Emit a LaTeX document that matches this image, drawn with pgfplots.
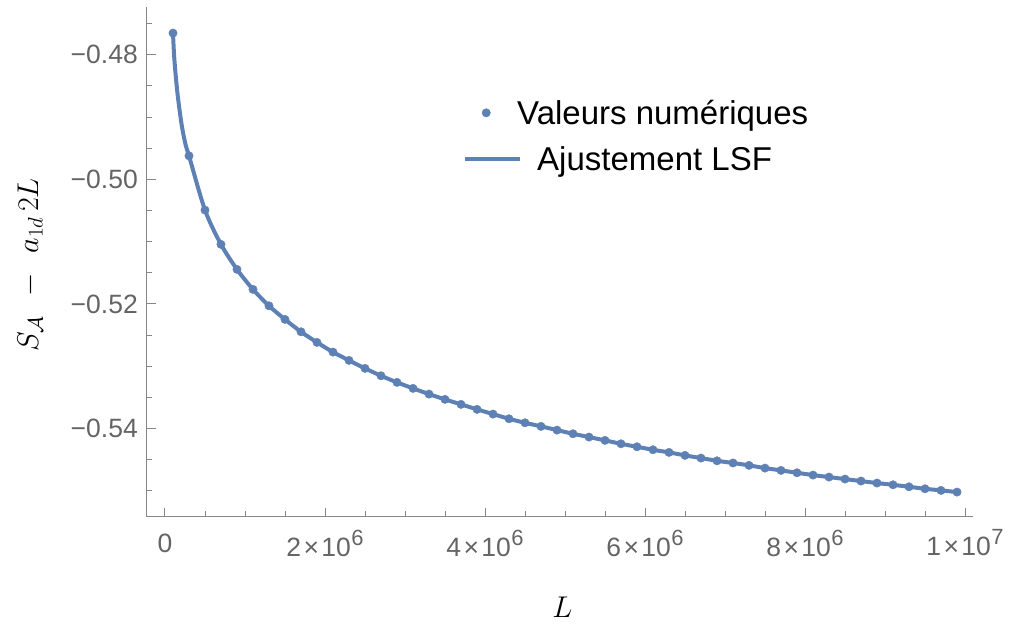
\documentclass[border=0pt]{standalone}
\usepackage{fix-cm}
\usepackage{fontspec}
\setmainfont{Liberation Sans}
\usepackage{pgfplots}
\usepackage{pgfplotstable}
\pgfplotsset{compat=1.18}
\definecolor{mblue}{RGB}{94,129,181}
\definecolor{axgray}{RGB}{135,135,135}
\definecolor{labgray}{RGB}{100,100,100}
\newcommand{\xt}[2]{#1\kern2.5pt×\kern2.5pt10\kern0.5pt\raisebox{11pt}{\fontsize{22}{22}\selectfont #2}}

\pgfplotstableread{
L v
100000 -0.47653
300000 -0.49623
500000 -0.50494
700000 -0.51045
900000 -0.51446
1100000 -0.51767
1300000 -0.52031
1500000 -0.52249
1700000 -0.52448
1900000 -0.52618
2100000 -0.52774
2300000 -0.52907
2500000 -0.53035
2700000 -0.53154
2900000 -0.53260
3100000 -0.53356
3300000 -0.53448
3500000 -0.53533
3700000 -0.53613
3900000 -0.53693
4100000 -0.53769
4300000 -0.53844
4500000 -0.53909
4700000 -0.53966
4900000 -0.54026
5100000 -0.54085
5300000 -0.54138
5500000 -0.54191
5700000 -0.54246
5900000 -0.54294
6100000 -0.54342
6300000 -0.54384
6500000 -0.54432
6700000 -0.54475
6900000 -0.54519
7100000 -0.54554
7300000 -0.54592
7500000 -0.54636
7700000 -0.54673
7900000 -0.54711
8100000 -0.54748
8300000 -0.54780
8500000 -0.54812
8700000 -0.54844
8900000 -0.54876
9100000 -0.54904
9300000 -0.54936
9500000 -0.54968
9700000 -0.54994
9900000 -0.55021
}\datatab

\pgfplotstableread{
L v
100000 -0.47653
116250 -0.48059
153750 -0.48596
208750 -0.49130
258750 -0.49451
300000 -0.49623
500000 -0.50494
700000 -0.51045
900000 -0.51446
1100000 -0.51767
1300000 -0.52031
1500000 -0.52249
1700000 -0.52448
1900000 -0.52618
2100000 -0.52774
2300000 -0.52907
2500000 -0.53035
2700000 -0.53154
2900000 -0.53260
3100000 -0.53356
3300000 -0.53448
3500000 -0.53533
3700000 -0.53613
3900000 -0.53693
4100000 -0.53769
4300000 -0.53844
4500000 -0.53909
4700000 -0.53966
4900000 -0.54026
5100000 -0.54085
5300000 -0.54138
5500000 -0.54191
5700000 -0.54246
5900000 -0.54294
6100000 -0.54342
6300000 -0.54384
6500000 -0.54432
6700000 -0.54475
6900000 -0.54519
7100000 -0.54554
7300000 -0.54592
7500000 -0.54636
7700000 -0.54673
7900000 -0.54711
8100000 -0.54748
8300000 -0.54780
8500000 -0.54812
8700000 -0.54844
8900000 -0.54876
9100000 -0.54904
9300000 -0.54936
9500000 -0.54968
9700000 -0.54994
9900000 -0.55021
}\fittab

\begin{document}
\begin{tikzpicture}
\path[use as bounding box] (0,0) rectangle (1010pt,624pt);
\begin{axis}[
  at={(147pt,107pt)}, anchor=south west,
  scale only axis, width=826pt, height=510pt,
  xmin=-225000, xmax=10100000,
  ymin=-0.55421, ymax=-0.47234,
  axis x line=bottom, axis y line=left,
  axis line style={-, draw=axgray, line width=1pt},
  tick align=inside,
  major tick length=9pt, minor tick length=5.5pt,
  every tick/.style={axgray, line width=1pt},
  scaled x ticks=false, scaled y ticks=false,
  xtick={0,2000000,4000000,6000000,8000000,10000000},
  xticklabels={0,\xt{2}{6},\xt{4}{6},\xt{6}{6},\xt{8}{6},\xt{1}{7}},
  minor xtick={500000,1000000,1500000,2500000,3000000,3500000,4500000,5000000,5500000,6500000,7000000,7500000,8500000,9000000,9500000},
  ytick={-0.54,-0.52,-0.50,-0.48},
  yticklabels={−0.54,−0.52,−0.50,−0.48},
  minor ytick={-0.55,-0.545,-0.535,-0.53,-0.525,-0.515,-0.51,-0.505,-0.495,-0.49,-0.485,-0.475},
  ticklabel style={font=\fontsize{26.5}{31}\selectfont, text=labgray},
  xticklabel style={anchor=center, yshift=-26pt},
  yticklabel style={anchor=east, inner sep=0pt, xshift=-9pt},
  xlabel={$L$}, ylabel={$S_{\mathcal{A}}\;\,-\;\,a_{1d}\,2L$},
  every axis x label/.style={at={(axis description cs:0.503,-0.176)}, anchor=center, font=\fontsize{30}{36}\selectfont},
  every axis y label/.style={at={(axis description cs:-0.1414,0.494)}, rotate=90, anchor=center, font=\fontsize{30}{36}\selectfont},
  legend cell align=left,
  legend style={at={(axis description cs:0.3826,0.747)}, anchor=west,
    draw=none, fill=none, inner sep=0pt, row sep=21pt, column sep=0pt,
    nodes={inner sep=0pt}, font=\fontsize{33}{40}\selectfont},
  clip=false,
]
\addplot[only marks, mark=*, mark size=4.2pt, color=mblue,
  legend image code/.code={\fill[mblue] (21pt,0pt) circle (4.2pt); \path (0pt,0pt) (70pt,0pt);}]
  table[x=L, y=v] {\datatab};
\addlegendentry{\hspace*{-20pt}Valeurs numériques}
\addplot[mblue, line width=4pt, smooth, line join=round,
  legend image code/.code={\draw[mblue, line width=4pt] (0pt,0pt) -- (55pt,0pt); \path (70pt,0pt);}]
  table[x=L, y=v] {\fittab};
\addlegendentry{Ajustement LSF}
\end{axis}
\end{tikzpicture}
\end{document}
